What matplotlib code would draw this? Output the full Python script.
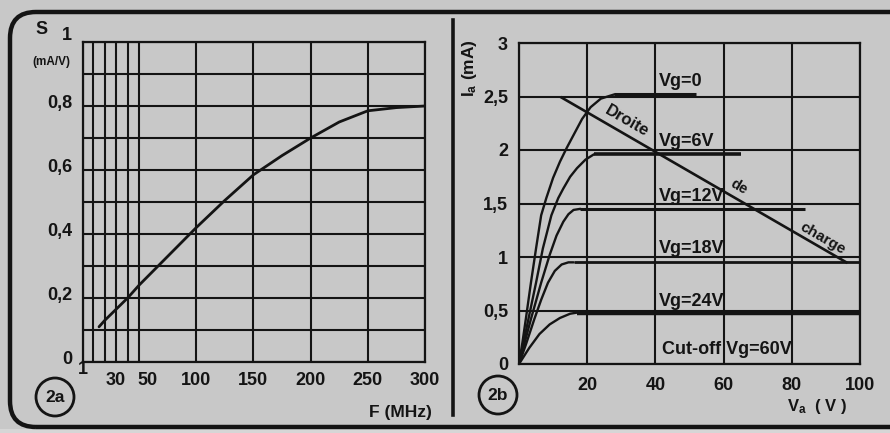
import matplotlib
matplotlib.use('Agg')
import matplotlib.pyplot as plt
from matplotlib.patches import FancyBboxPatch, Circle, Rectangle
from matplotlib.lines import Line2D
from matplotlib.transforms import IdentityTransform, ScaledTranslation

plt.rcParams['font.family'] = ['Liberation Sans', 'DejaVu Sans']
plt.rcParams['font.weight'] = 'bold'
plt.rcParams['mathtext.default'] = 'regular'

# ---------------- Fig 2a : transconductance vs frequency ----------------
freq_mhz = [15, 20, 30, 40, 50, 75, 100, 125, 150, 175, 200, 225, 250, 275, 300]
slope_ma_v = [0.11, 0.13, 0.165, 0.20, 0.24, 0.33, 0.42, 0.505, 0.585, 0.645, 0.70, 0.75, 0.785, 0.795, 0.80]
freq_ticks = [1, 30, 50, 100, 150, 200, 250, 300]
freq_tick_labels = ['1', '30', '50', '100', '150', '200', '250', '300']
freq_grid = [10, 20, 40]
s_ticks = [0, 0.2, 0.4, 0.6, 0.8, 1.0]
s_tick_labels = ['0', '0,2', '0,4', '0,6', '0,8', '1']
s_grid = [0.1, 0.3, 0.5, 0.7, 0.9]

# ---------------- Fig 2b : anode characteristics ----------------
va_vg0 = [0, 1, 2, 3.5, 5, 6.5, 8, 10, 12, 14, 16, 18.5, 21, 24, 28]
ia_vg0 = [0, 0.2, 0.42, 0.76, 1.08, 1.39, 1.55, 1.74, 1.89, 2.02, 2.14, 2.29, 2.40, 2.48, 2.52]
flat_vg0 = ([28, 52], [2.52, 2.52])

va_vg6 = [0, 1, 2.5, 5, 7, 9.5, 11.5, 13, 15, 17, 19.5, 22]
ia_vg6 = [0, 0.15, 0.38, 0.76, 1.08, 1.39, 1.55, 1.64, 1.75, 1.83, 1.91, 1.96]
flat_vg6 = ([22, 65], [1.96, 1.96])

va_vg12 = [0, 1.5, 3.5, 6.5, 9, 11, 13, 14.5, 16, 18]
ia_vg12 = [0, 0.18, 0.42, 0.76, 1.02, 1.2, 1.33, 1.4, 1.44, 1.45]
flat_vg12 = ([18, 84], [1.45, 1.45])

va_vg18 = [0, 2, 4.5, 6.5, 8.5, 10.5, 12.5, 14.5, 16]
ia_vg18 = [0, 0.18, 0.42, 0.6, 0.76, 0.87, 0.93, 0.95, 0.95]
flat_vg18 = ([16, 100], [0.95, 0.95])

va_vg24 = [0, 3, 6, 9, 12, 15, 17]
ia_vg24 = [0, 0.15, 0.28, 0.37, 0.43, 0.47, 0.48]
flat_vg24 = ([17, 100], [0.48, 0.48])

load_line_va = [12.5, 96]
load_line_ia = [2.49, 0.95]

va_ticks = [0, 20, 40, 60, 80, 100]
va_tick_labels = ['', '20', '40', '60', '80', '100']
ia_ticks = [0, 0.5, 1.0, 1.5, 2.0, 2.5, 3.0]
ia_tick_labels = ['0', '0,5', '1', '1,5', '2', '2,5', '3']

curve_labels = [('Vg=0', 41, 2.6), ('Vg=6V', 41, 2.04), ('Vg=12V', 41, 1.52),
                ('Vg=18V', 41, 1.04), ('Vg=24V', 41, 0.54), ('Cut-off Vg=60V', 41.8, 0.09)]

INK = '#141414'
BG = '#c8c8c8'
W, H = 890, 433

fig = plt.figure(figsize=(8.9, 4.33), dpi=100, facecolor=BG)

def fx(px):
    return px / W

def fy(py):
    return 1 - py / H

# lighter strip below the frame
fig.add_artist(Rectangle((0, 0), W, 4, transform=IdentityTransform(),
                         facecolor='#d6d6d6', edgecolor='none', zorder=0))

# ---- Left axes ----
ax1 = fig.add_axes([fx(83), fy(362), fx(425 - 83), (362 - 42) / H])
ax1.set_facecolor('none')
ax1.set_xlim(1, 300)
ax1.set_ylim(0, 1)
ax1.set_xticks(freq_ticks)
ax1.set_xticklabels(freq_tick_labels)
ax1.set_xticks(freq_grid, minor=True)
ax1.set_yticks(s_ticks)
ax1.set_yticklabels(s_tick_labels)
ax1.set_yticks(s_grid, minor=True)
ax1.grid(which='both', color=INK, lw=1.5)
ax1.tick_params(which='both', length=0, labelsize=13, colors=INK)
ax1.tick_params(axis='x', pad=7)
ax1.tick_params(axis='y', pad=8)
for sp in ax1.spines.values():
    sp.set_linewidth(1.6)
    sp.set_color(INK)
ax1.plot(freq_mhz, slope_ma_v, color=INK, lw=2.0, solid_capstyle='round', zorder=3)

xl = ax1.get_xticklabels()
xl[0].set_transform(xl[0].get_transform() + ScaledTranslation(0, 8 / 72, fig.dpi_scale_trans))
xl[2].set_horizontalalignment('left')
xl[2].set_transform(xl[2].get_transform() + ScaledTranslation(-1 / 72, 0, fig.dpi_scale_trans))
yl = ax1.get_yticklabels()
for i, t in enumerate(yl):
    dy = 6 if i == len(yl) - 1 else 3
    t.set_transform(t.get_transform() + ScaledTranslation(0, dy / 72, fig.dpi_scale_trans))

fig.text(fx(42), fy(30), 'S', fontsize=13, ha='center', va='center', color=INK)
fig.text(fx(51), fy(62), '(mA/V)', fontsize=8.5, ha='center', va='center', color=INK)
fig.text(fx(400), fy(413), 'F (MHz)', fontsize=12.5, ha='center', va='center', color=INK)

# ---- Right axes ----
ax2 = fig.add_axes([fx(519), fy(364), fx(860 - 519), (364 - 43) / H])
ax2.set_facecolor('none')
ax2.set_xlim(0, 100)
ax2.set_ylim(0, 3)
ax2.set_xticks(va_ticks)
ax2.set_xticklabels(va_tick_labels)
ax2.set_yticks(ia_ticks)
ax2.set_yticklabels(ia_tick_labels)
ax2.grid(color=INK, lw=1.5)
ax2.tick_params(length=0, labelsize=13, colors=INK)
ax2.tick_params(axis='x', pad=9)
ax2.tick_params(axis='y', pad=8)
for sp in ax2.spines.values():
    sp.set_linewidth(1.6)
    sp.set_color(INK)

for va, ia in [(va_vg0, ia_vg0), (va_vg6, ia_vg6), (va_vg12, ia_vg12),
               (va_vg18, ia_vg18), (va_vg24, ia_vg24)]:
    ax2.plot(va, ia, color=INK, lw=1.7, zorder=3, solid_capstyle='round')
for (fxv, fyv), lw in [(flat_vg0, 2.2), (flat_vg6, 2.6), (flat_vg12, 2.2),
                       (flat_vg18, 2.0), (flat_vg24, 3.2)]:
    ax2.plot(fxv, fyv, color=INK, lw=lw, zorder=3, solid_capstyle='butt')
ax2.plot(load_line_va, load_line_ia, color=INK, lw=1.9, zorder=3)

for txt, x, y in curve_labels:
    ax2.text(x, y, txt, fontsize=13, ha='left', va='baseline', color=INK, zorder=4)

ax2.text(31.5, 2.27, 'Droite', fontsize=12, rotation=-30, ha='center', va='center',
         rotation_mode='anchor', color=INK)
ax2.text(64.5, 1.66, 'de', fontsize=10.5, rotation=-30, ha='center', va='center',
         rotation_mode='anchor', color=INK)
ax2.text(89, 1.17, 'charge', fontsize=11, rotation=-30, ha='center', va='center',
         rotation_mode='anchor', color=INK)

fig.text(fx(470), fy(68), 'I$_{a}$ (mA)', fontsize=12.5, rotation=90, ha='center', va='center', color=INK)
fig.text(fx(817), fy(407), 'V$_{a}$  ( V )', fontsize=12, ha='center', va='center', color=INK)

# ---- Frame and panel decorations ----
frame = FancyBboxPatch((10, H - 427), 1000, 427 - 12,
                       boxstyle='round,pad=0,rounding_size=26',
                       transform=IdentityTransform(), facecolor='none',
                       edgecolor=INK, lw=3.2, zorder=1)
fig.add_artist(frame)
fig.add_artist(Line2D([453, 453], [H - 20, H - 415], transform=IdentityTransform(),
                      color=INK, lw=2.6))

for (cx, cy), lab in [((55, 397), '2a'), ((498, 395), '2b')]:
    fig.add_artist(Circle((cx, H - cy), 19, transform=IdentityTransform(),
                          facecolor='none', edgecolor=INK, lw=2.0))
    fig.text(fx(cx), fy(cy), lab, fontsize=12.5, ha='center', va='center', color=INK)

fig.savefig('out.png', dpi=100, facecolor=BG)
